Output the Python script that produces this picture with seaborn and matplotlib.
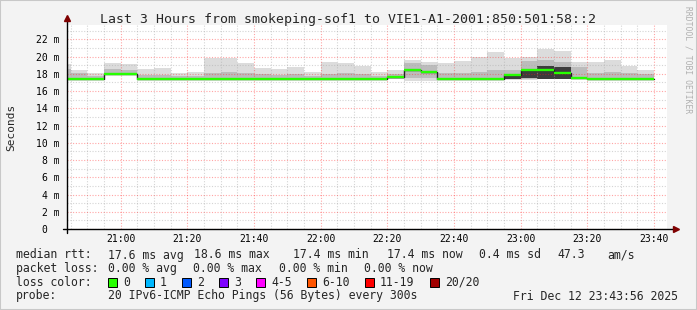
import numpy as np
import pandas as pd
import seaborn as sns
import matplotlib
matplotlib.use("Agg")
import matplotlib.pyplot as plt
from matplotlib.patches import Rectangle
from matplotlib.lines import Line2D

# ---------------- data (5-minute bins, labelled by bin end time) ----------------
bin_end = ["20:45", "20:50", "20:55", "21:00", "21:05", "21:10", "21:15", "21:20", "21:25",
           "21:30", "21:35", "21:40", "21:45", "21:50", "21:55", "22:00", "22:05", "22:10",
           "22:15", "22:20", "22:25", "22:30", "22:35", "22:40", "22:45", "22:50", "22:55",
           "23:00", "23:05", "23:10", "23:15", "23:20", "23:25", "23:30", "23:35", "23:40"]
median_ms = [17.45, 17.4, 17.45, 18.0, 18.0, 17.4, 17.4, 17.4, 17.4,
             17.4, 17.4, 17.4, 17.4, 17.4, 17.4, 17.4, 17.4, 17.4,
             17.4, 17.4, 17.6, 18.4, 18.25, 17.4, 17.4, 17.4, 17.4,
             17.85, 18.5, 18.5, 18.1, 17.5, 17.4, 17.4, 17.4, 17.4]
smoke_max = [19.1, 18.4, 18.1, 19.2, 19.1, 18.55, 18.7, 18.1, 18.25,
             19.85, 19.85, 19.3, 18.65, 18.55, 18.75, 18.2, 19.35, 19.2,
             18.9, 18.25, 18.45, 19.6, 19.4, 19.2, 19.5, 20.0, 20.5,
             19.8, 19.9, 20.85, 20.6, 19.4, 19.35, 19.65, 18.95, 18.45]
smoke_min = [17.35, 17.35, 17.35, 17.9, 17.9, 17.35, 17.35, 17.35, 17.35,
             17.35, 17.35, 17.35, 17.35, 17.35, 17.35, 17.35, 17.35, 17.35,
             17.35, 17.35, 17.35, 17.2, 17.15, 17.35, 17.35, 17.35, 17.35,
             17.3, 17.3, 17.35, 17.35, 17.35, 17.35, 17.35, 17.35, 17.35]
mid_lo = [17.4, 17.4, 17.4, 17.95, 17.95, 17.4, 17.4, 17.4, 17.4,
          17.4, 17.4, 17.4, 17.4, 17.4, 17.4, 17.4, 17.4, 17.4,
          17.4, 17.4, 17.45, 17.5, 17.5, 17.4, 17.4, 17.4, 17.4,
          17.35, 17.35, 17.4, 17.4, 17.4, 17.4, 17.4, 17.4, 17.4]
mid_hi = [18.6, 18.15, 17.8, 18.6, 18.5, 17.9, 17.9, 17.7, 17.75,
          18.1, 18.25, 18.15, 18.0, 17.85, 17.95, 17.75, 18.0, 18.05,
          17.95, 17.75, 18.0, 19.3, 19.0, 18.1, 18.15, 18.2, 18.4,
          18.4, 19.5, 19.6, 19.4, 18.8, 18.1, 18.2, 18.1, 18.0]
dark_lo = [np.nan] * 27 + [17.4, 17.5, 17.45, 17.45, 17.45] + [np.nan] * 4
dark_hi = [np.nan] * 27 + [17.85, 18.6, 18.95, 18.85, 18.2] + [np.nan] * 4

x_tick_labels = ["21:00", "21:20", "21:40", "22:00", "22:20", "22:40", "23:00", "23:20", "23:40"]
y_ticks = [0, 2, 4, 6, 8, 10, 12, 14, 16, 18, 20, 22]

loss_labels = ["0", "1", "2", "3", "4-5", "6-10", "11-19", "20/20"]
loss_colors = ["#26ff00", "#00b8ff", "#0059ff", "#7e00ff", "#ff00ff", "#ff5500", "#ff0000", "#a10000"]


def to_min(s):
    h, m = s.split(":")
    return int(h) * 60 + int(m)


ends = np.array([to_min(s) for s in bin_end], dtype=float)
starts = ends - 5
edges = np.append(starts, ends[-1])


def ext(a):
    a = np.asarray(a, dtype=float)
    return np.append(a, a[-1])


t_start = to_min("20:43") + 56 / 60
t_end = t_start + 180

# ---------------- figure ----------------
W, H = 697, 310
sns.set_style("white")
plt.rcParams["font.family"] = ["DejaVu Sans Mono", "DejaVu Sans"]
fig = plt.figure(figsize=(W / 100, H / 100), dpi=100, facecolor="#f3f3f3")

L, R, T, B = 67, 667, 25, 229
ax = fig.add_axes([L / W, 1 - B / H, (R - L) / W, (B - T) / H])
ax.set_facecolor("white")

# smoke layers
ax.fill_between(edges, ext(smoke_min), ext(smoke_max), step="post", color="#dcdcdc", lw=0, zorder=1)
ax.fill_between(edges, ext(mid_lo), ext(mid_hi), step="post", color="#bcbcbc", lw=0, zorder=1.1)
ax.fill_between(edges, ext(dark_lo), ext(dark_hi), step="post", color="#3c3c3c", lw=0, zorder=1.2)

# median: dark step line + green loss-coloured segments
df = pd.DataFrame({"t": edges, "ms": ext(median_ms)})
sns.lineplot(data=df, x="t", y="ms", drawstyle="steps-post", color="#202020", lw=1.0,
             estimator=None, ax=ax, zorder=3)
ax.hlines(median_ms, starts, ends, color=loss_colors[0], lw=1.7, zorder=4)

major_x = [to_min(s) for s in x_tick_labels]
ax.set_xticks(major_x)
ax.set_xticklabels(x_tick_labels)
ax.set_xticks(np.arange(1245, 1425, 5), minor=True)
ax.set_yticks(y_ticks)
ax.set_yticklabels([f"{v} m" if v else "0  " for v in y_ticks])
ax.set_yticks(np.arange(1, 24, 2), minor=True)
ax.set_xlim(t_start, t_end)
ax.set_ylim(0, (B - T) / 8.62)

ax.grid(which="minor", color="#ababab", alpha=0.5, ls=(0, (1, 1.5)), lw=0.8, zorder=5)
ax.grid(which="major", color="#ff2020", alpha=0.4, ls=(0, (1, 1.5)), lw=0.8, zorder=5)
ax.set_axisbelow(False)
ax.tick_params(which="both", length=0, labelsize=7, colors="#000000")
ax.tick_params(axis="x", pad=3.5)
ax.tick_params(axis="y", pad=5.3)
ax.set_xlabel("")
ax.set_ylabel("")
for s in ax.spines.values():
    s.set_visible(False)

# axes lines with arrows
fx = lambda px: px / W
fy = lambda py: 1 - py / H
fig.add_artist(Line2D([fx(63), fx(674)], [fy(229), fy(229)], color="#000000", lw=1.0))
fig.add_artist(Line2D([fx(67), fx(67)], [fy(233), fy(20)], color="#000000", lw=1.0))
fig.add_artist(Line2D([fx(676)], [fy(229)], marker=">", color="#7f0000", ms=4.5, lw=0))
fig.add_artist(Line2D([fx(67)], [fy(18)], marker="^", color="#7f0000", ms=4.5, lw=0))

# titles
fig.text(fx(348), fy(19), "Last 3 Hours from smokeping-sof1 to VIE1-A1-2001:850:501:58::2",
         ha="center", va="center", fontsize=9.5)
fig.text(fx(11), fy(127), "Seconds", rotation=90, ha="center", va="center", fontsize=8)
fig.text(fx(688), fy(6), "RRDTOOL / TOBI OETIKER", rotation=270, ha="center", va="top",
         fontsize=5.8, color="#b0b0b0")

# legend lines
fs = 8.3
row1 = [(16, "median rtt:"), (107.6, "17.6 ms avg"), (194, "18.6 ms max"), (293, "17.4 ms min"),
        (386.7, "17.4 ms now"), (479, "0.4 ms sd"), (557.8, "47.3"), (607, "am/s")]
row2 = [(16, "packet loss:"), (107.6, "0.00 % avg"), (193.3, "0.00 % max"), (279, "0.00 % min"),
        (364.4, "0.00 % now")]
row4 = [(16, "probe:"), (107.6, "20 IPv6-ICMP Echo Pings (56 Bytes) every 300s"),
        (513, "Fri Dec 12 23:43:56 2025")]
for px, txt in row1:
    fig.text(fx(px), fy(255), txt, ha="left", va="center", fontsize=fs)
for px, txt in row2:
    fig.text(fx(px), fy(268.5), txt, ha="left", va="center", fontsize=fs)
fig.text(fx(16), fy(282.3), "loss color:", ha="left", va="center", fontsize=fs)
box_x = [108, 145, 182, 219, 256, 307, 365, 430]
for bx, lab, col in zip(box_x, loss_labels, loss_colors):
    fig.add_artist(Rectangle((fx(bx), fy(287)), 9 / W, 9 / H, facecolor=col,
                             edgecolor="#000000", lw=0.7, transform=fig.transFigure))
    fig.text(fx(bx + 15), fy(282.3), lab, ha="left", va="center", fontsize=fs)
for px, txt in row4:
    fig.text(fx(px), fy(296), txt, ha="left", va="center", fontsize=fs)

# frame
fig.add_artist(Rectangle((0, 0), 1, 1, transform=fig.transFigure, fill=False,
                         edgecolor="#c8c8c8", lw=1.5))

fig.savefig("out.png", dpi=100, facecolor=fig.get_facecolor())
